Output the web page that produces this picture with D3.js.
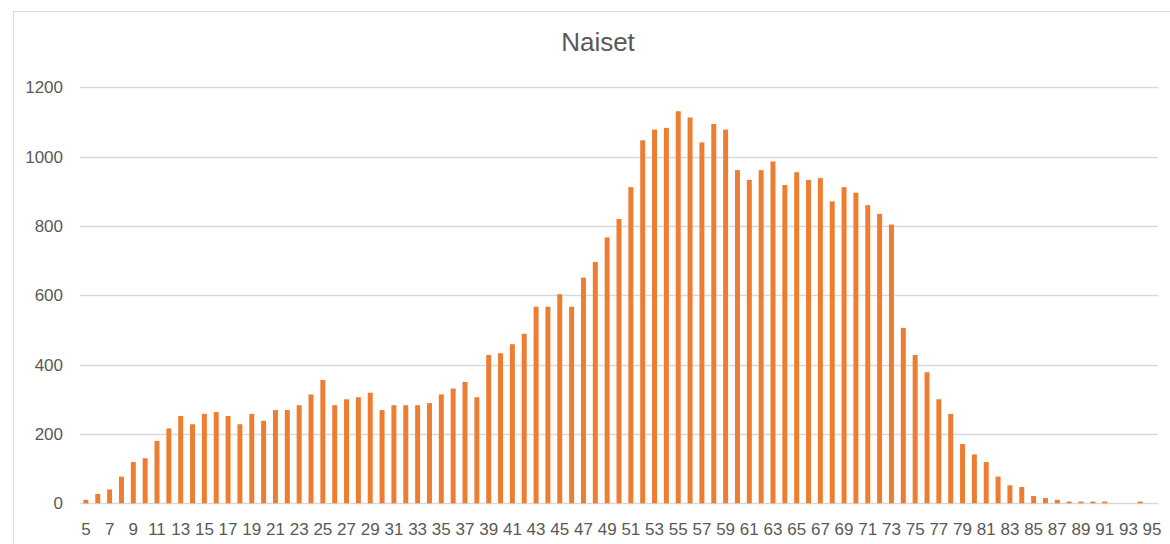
<html>
<head>
  <meta charset="utf-8">
  <title>Naiset</title>
  <script src="https://d3js.org/d3.v7.min.js"></script>
  <style>
    body { margin: 0; background: #fff; }
    text { font-family: "Liberation Sans", Arial, sans-serif; fill: #595959; }
  </style>
</head>
<body>
  <div id="chart"></div>

  <script>
    // Chart data
    var title = 'Naiset';
    var ages = d3.range(5, 96);
    var counts = [
      10, 27, 40, 77, 119, 130, 180, 216, 252, 228,      // 5-14
      258, 263, 252, 228, 258, 238, 269, 269, 283, 314,  // 15-24
      356, 283, 300, 306, 319, 269, 283, 283, 283, 289,  // 25-34
      314, 331, 350, 306, 428, 433, 459, 489, 567, 567,  // 35-44
      603, 567, 651, 696, 767, 820, 912, 1047, 1078, 1083, // 45-54
      1131, 1113, 1041, 1094, 1078, 961, 933, 961, 986, 918, // 55-64
      955, 933, 938, 871, 912, 896, 860, 835, 804, 506,  // 65-74
      428, 378, 300, 258, 171, 141, 119, 77, 52, 47,     // 75-84
      21, 15, 10, 5, 5, 5, 5, 0, 0, 5, 0                  // 85-95
    ];
    var yTicks = [0, 200, 400, 600, 800, 1000, 1200];

    var data = ages.map(function(a, i) { return {age: a, value: counts[i]}; });

    var W = 1170, H = 544;
    var plot = {left: 80, right: 1158, top: 87.3, bottom: 503.3};

    var svg = d3.select('#chart').append('svg')
        .attr('width', W)
        .attr('height', H);

    // chart area border
    svg.append('rect')
        .attr('x', 13.5).attr('y', 11.5)
        .attr('width', W + 20).attr('height', H + 20)
        .attr('fill', 'none')
        .attr('stroke', '#d9d9d9');

    var x = d3.scaleBand()
        .domain(ages)
        .range([plot.left, plot.right])
        .paddingInner(0.58)
        .paddingOuter(0.29);

    var y = d3.scaleLinear()
        .domain([0, 1200])
        .range([plot.bottom, plot.top]);

    // gridlines
    svg.append('g')
        .selectAll('line')
        .data(yTicks)
        .enter().append('line')
          .attr('x1', plot.left).attr('x2', plot.right)
          .attr('y1', function(d) { return Math.round(y(d)) + 0.5; })
          .attr('y2', function(d) { return Math.round(y(d)) + 0.5; })
          .attr('stroke', '#d9d9d9')
          .attr('stroke-width', 1.3);

    // y labels
    svg.append('g')
        .selectAll('text')
        .data(yTicks)
        .enter().append('text')
          .attr('x', 63)
          .attr('y', function(d) { return y(d); })
          .attr('dy', '0.35em')
          .attr('text-anchor', 'end')
          .style('font-size', '17px')
          .text(function(d) { return d; });

    // bars
    svg.append('g')
        .selectAll('rect')
        .data(data)
        .enter().append('rect')
          .attr('x', function(d) { return x(d.age); })
          .attr('width', x.bandwidth())
          .attr('y', function(d) { return y(d.value); })
          .attr('height', function(d) { return y(0) - y(d.value); })
          .attr('fill', '#ed7d31');

    // x labels (every other category)
    svg.append('g')
        .selectAll('text')
        .data(ages.filter(function(a) { return a % 2 == 1; }))
        .enter().append('text')
          .attr('x', function(d) { return x(d) + x.bandwidth() / 2; })
          .attr('y', 535)
          .attr('text-anchor', 'middle')
          .style('font-size', '17px')
          .text(function(d) { return d; });

    // title
    svg.append('text')
        .attr('x', 598)
        .attr('y', 51)
        .attr('text-anchor', 'middle')
        .style('font-size', '26px')
        .text(title);
  </script>
</body>
</html>
